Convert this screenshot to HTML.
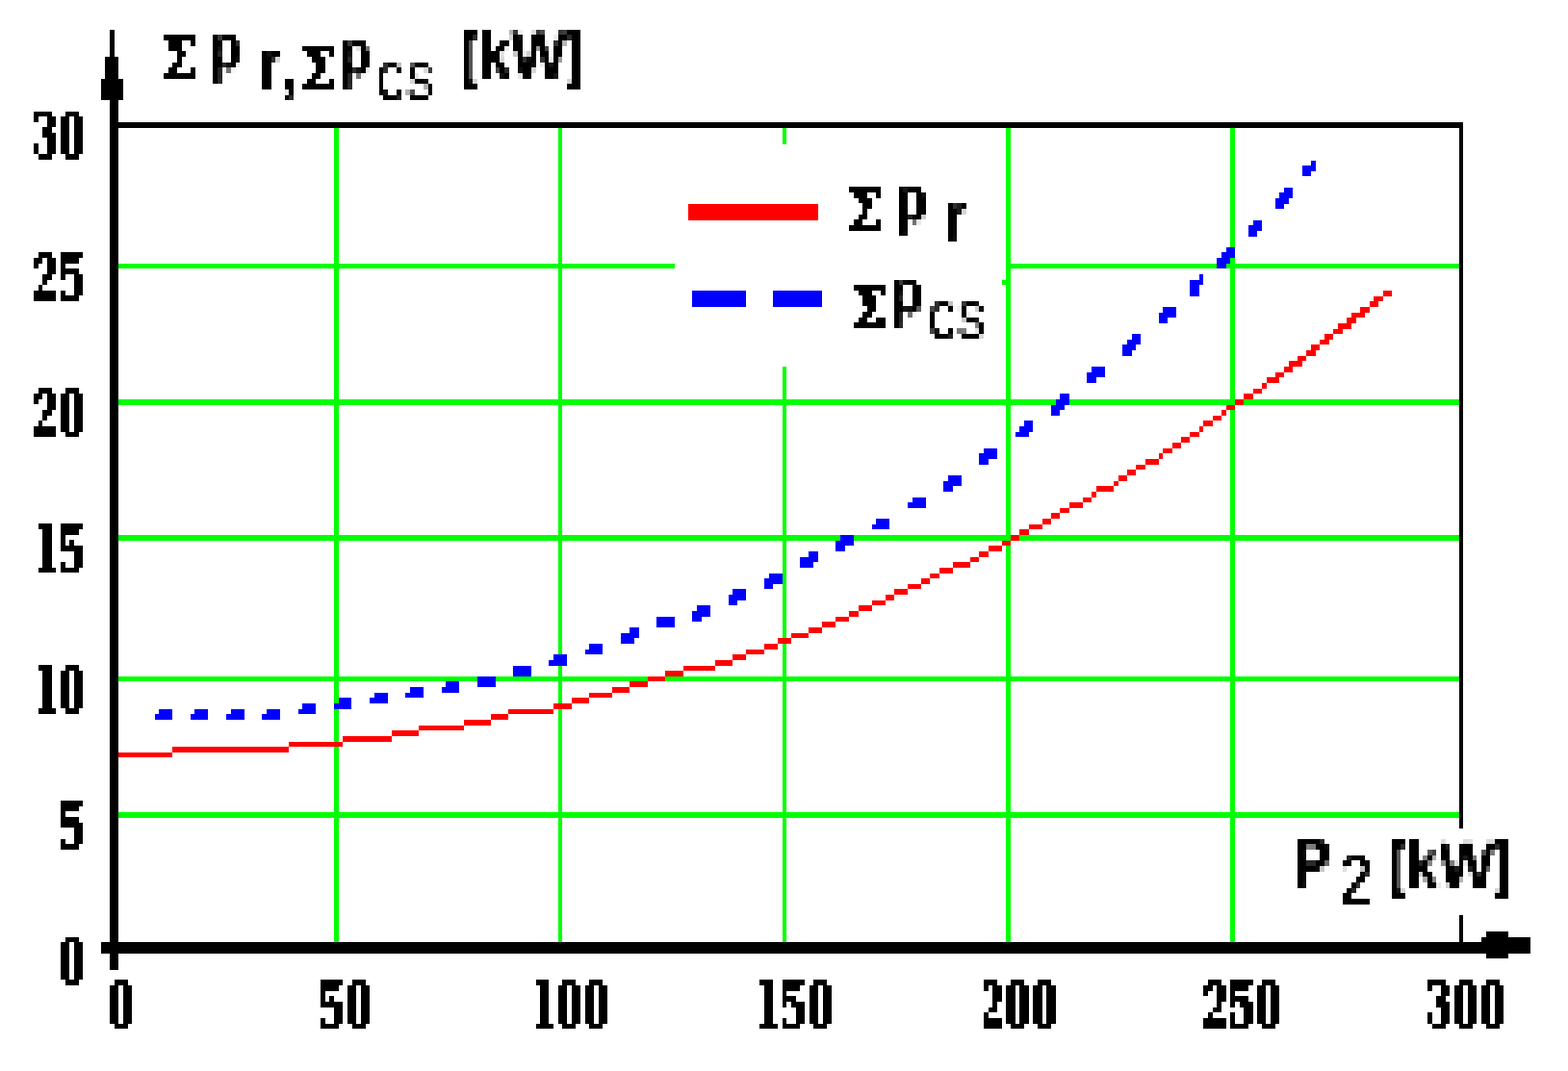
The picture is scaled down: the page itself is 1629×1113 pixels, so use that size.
<!DOCTYPE html>
<html lang="en">
<head>
<meta charset="utf-8">
<title>Losses versus output power</title>
<style>
html,body{margin:0;padding:0;background:#fff;}
body{width:1629px;height:1113px;overflow:hidden;}
svg{display:block;}
.tk{font-family:"Liberation Serif","DejaVu Serif",serif;font-weight:bold;}
.sg{font-family:"DejaVu Serif","Liberation Serif",serif;font-weight:bold;}
.sb{font-family:"Liberation Sans","DejaVu Sans",sans-serif;font-weight:bold;}
.sr{font-family:"Liberation Sans","DejaVu Sans",sans-serif;font-weight:normal;}
</style>
</head>
<body>
<svg width="1629" height="1113" viewBox="0 0 1629 1113" shape-rendering="crispEdges">
<defs>
<filter id="px" filterUnits="userSpaceOnUse" primitiveUnits="userSpaceOnUse" x="-35" y="-43" width="1788" height="1400" color-interpolation-filters="sRGB">
<feFlood x="-35" y="-43" width="1" height="1400" flood-color="rgb(148,0,0)" result="a0"/>
<feFlood x="-34" y="-43" width="1" height="1400" flood-color="rgb(138,0,0)" result="a1"/>
<feFlood x="-33" y="-43" width="1" height="1400" flood-color="rgb(128,0,0)" result="a2"/>
<feFlood x="-32" y="-43" width="1" height="1400" flood-color="rgb(118,0,0)" result="a3"/>
<feFlood x="-31" y="-43" width="1" height="1400" flood-color="rgb(108,0,0)" result="a4"/>
<feFlood x="-30" y="-43" width="1" height="1400" flood-color="rgb(148,0,0)" result="a5"/>
<feFlood x="-29" y="-43" width="1" height="1400" flood-color="rgb(138,0,0)" result="a6"/>
<feFlood x="-28" y="-43" width="1" height="1400" flood-color="rgb(128,0,0)" result="a7"/>
<feFlood x="-27" y="-43" width="1" height="1400" flood-color="rgb(118,0,0)" result="a8"/>
<feFlood x="-26" y="-43" width="1" height="1400" flood-color="rgb(148,0,0)" result="a9"/>
<feFlood x="-25" y="-43" width="1" height="1400" flood-color="rgb(138,0,0)" result="a10"/>
<feFlood x="-24" y="-43" width="1" height="1400" flood-color="rgb(128,0,0)" result="a11"/>
<feFlood x="-23" y="-43" width="1" height="1400" flood-color="rgb(118,0,0)" result="a12"/>
<feFlood x="-22" y="-43" width="1" height="1400" flood-color="rgb(108,0,0)" result="a13"/>
<feMerge x="-35" y="-43" width="14" height="1400"><feMergeNode in="a0"/><feMergeNode in="a1"/><feMergeNode in="a2"/><feMergeNode in="a3"/><feMergeNode in="a4"/><feMergeNode in="a5"/><feMergeNode in="a6"/><feMergeNode in="a7"/><feMergeNode in="a8"/><feMergeNode in="a9"/><feMergeNode in="a10"/><feMergeNode in="a11"/><feMergeNode in="a12"/><feMergeNode in="a13"/></feMerge>
<feTile x="-35" y="-43" width="140" height="1400" result="a"/>
<feFlood x="105" y="-43" width="1" height="1400" flood-color="rgb(148,0,0)" result="b0"/>
<feFlood x="106" y="-43" width="1" height="1400" flood-color="rgb(138,0,0)" result="b1"/>
<feFlood x="107" y="-43" width="1" height="1400" flood-color="rgb(128,0,0)" result="b2"/>
<feFlood x="108" y="-43" width="1" height="1400" flood-color="rgb(118,0,0)" result="b3"/>
<feFlood x="109" y="-43" width="1" height="1400" flood-color="rgb(108,0,0)" result="b4"/>
<feFlood x="110" y="-43" width="1" height="1400" flood-color="rgb(148,0,0)" result="b5"/>
<feFlood x="111" y="-43" width="1" height="1400" flood-color="rgb(138,0,0)" result="b6"/>
<feFlood x="112" y="-43" width="1" height="1400" flood-color="rgb(128,0,0)" result="b7"/>
<feFlood x="113" y="-43" width="1" height="1400" flood-color="rgb(118,0,0)" result="b8"/>
<feMerge x="-35" y="-43" width="149" height="1400"><feMergeNode in="a"/><feMergeNode in="b0"/><feMergeNode in="b1"/><feMergeNode in="b2"/><feMergeNode in="b3"/><feMergeNode in="b4"/><feMergeNode in="b5"/><feMergeNode in="b6"/><feMergeNode in="b7"/><feMergeNode in="b8"/></feMerge>
<feTile result="mx"/>
<feFlood x="-35" y="-43" width="1788" height="1" flood-color="rgb(0,158,0)" result="c0"/>
<feFlood x="-35" y="-42" width="1788" height="1" flood-color="rgb(0,148,0)" result="c1"/>
<feFlood x="-35" y="-41" width="1788" height="1" flood-color="rgb(0,138,0)" result="c2"/>
<feFlood x="-35" y="-40" width="1788" height="1" flood-color="rgb(0,128,0)" result="c3"/>
<feFlood x="-35" y="-39" width="1788" height="1" flood-color="rgb(0,118,0)" result="c4"/>
<feFlood x="-35" y="-38" width="1788" height="1" flood-color="rgb(0,108,0)" result="c5"/>
<feFlood x="-35" y="-37" width="1788" height="1" flood-color="rgb(0,148,0)" result="c6"/>
<feFlood x="-35" y="-36" width="1788" height="1" flood-color="rgb(0,138,0)" result="c7"/>
<feFlood x="-35" y="-35" width="1788" height="1" flood-color="rgb(0,128,0)" result="c8"/>
<feFlood x="-35" y="-34" width="1788" height="1" flood-color="rgb(0,118,0)" result="c9"/>
<feFlood x="-35" y="-33" width="1788" height="1" flood-color="rgb(0,108,0)" result="c10"/>
<feFlood x="-35" y="-32" width="1788" height="1" flood-color="rgb(0,158,0)" result="c11"/>
<feFlood x="-35" y="-31" width="1788" height="1" flood-color="rgb(0,148,0)" result="c12"/>
<feFlood x="-35" y="-30" width="1788" height="1" flood-color="rgb(0,138,0)" result="c13"/>
<feFlood x="-35" y="-29" width="1788" height="1" flood-color="rgb(0,128,0)" result="c14"/>
<feFlood x="-35" y="-28" width="1788" height="1" flood-color="rgb(0,118,0)" result="c15"/>
<feFlood x="-35" y="-27" width="1788" height="1" flood-color="rgb(0,108,0)" result="c16"/>
<feMerge x="-35" y="-43" width="1788" height="17"><feMergeNode in="c0"/><feMergeNode in="c1"/><feMergeNode in="c2"/><feMergeNode in="c3"/><feMergeNode in="c4"/><feMergeNode in="c5"/><feMergeNode in="c6"/><feMergeNode in="c7"/><feMergeNode in="c8"/><feMergeNode in="c9"/><feMergeNode in="c10"/><feMergeNode in="c11"/><feMergeNode in="c12"/><feMergeNode in="c13"/><feMergeNode in="c14"/><feMergeNode in="c15"/><feMergeNode in="c16"/></feMerge>
<feTile x="-35" y="-43" width="1788" height="170" result="c"/>
<feFlood x="-35" y="127" width="1788" height="1" flood-color="rgb(0,148,0)" result="d0"/>
<feFlood x="-35" y="128" width="1788" height="1" flood-color="rgb(0,138,0)" result="d1"/>
<feFlood x="-35" y="129" width="1788" height="1" flood-color="rgb(0,128,0)" result="d2"/>
<feFlood x="-35" y="130" width="1788" height="1" flood-color="rgb(0,118,0)" result="d3"/>
<feFlood x="-35" y="131" width="1788" height="1" flood-color="rgb(0,108,0)" result="d4"/>
<feMerge x="-35" y="-43" width="1788" height="175"><feMergeNode in="c"/><feMergeNode in="d0"/><feMergeNode in="d1"/><feMergeNode in="d2"/><feMergeNode in="d3"/><feMergeNode in="d4"/></feMerge>
<feTile result="my"/>
<feComposite in="mx" in2="my" operator="arithmetic" k1="0" k2="1" k3="1" k4="0" result="map"/>
<feDisplacementMap in="SourceGraphic" in2="map" scale="25.5" xChannelSelector="R" yChannelSelector="G"/>
</filter>
<filter id="bw" filterUnits="userSpaceOnUse" primitiveUnits="userSpaceOnUse" x="0" y="0" width="1629" height="1113" color-interpolation-filters="sRGB"><feGaussianBlur stdDeviation="1.3 1.6"/><feComponentTransfer><feFuncA type="discrete" tableValues="0 0 1 1 1"/></feComponentTransfer></filter>
<filter id="aa" filterUnits="userSpaceOnUse" primitiveUnits="userSpaceOnUse" x="0" y="0" width="1629" height="1113" color-interpolation-filters="sRGB"><feGaussianBlur stdDeviation="1.3 1.6"/><feComponentTransfer><feFuncA type="table" tableValues="0 0 0.2 0.8 1 1"/></feComponentTransfer></filter>
</defs>
<rect width="1629" height="1113" fill="#fff"/>
<path fill="#0f0" d="M347 133H352V979H347ZM580 133H584V979H580ZM813 133H817V979H813ZM1045 133H1050V979H1045ZM1278 133H1283V979H1278ZM123 274H1516V279H123ZM123 415H1516V421H123ZM123 556H1516V562H123ZM123 703H1516V708H123ZM123 844H1516V850H123Z"/>
<path fill="#fff" d="M701 150H1045V381H701ZM1460 861H1604V951H1460Z"/>
<path fill="#0f0" d="M1041 291H1045V296H1041Z"/>
<path fill="#f00" d="M123 782H179V787H123ZM179 776H300V782H179ZM300 771H356V776H300ZM356 765H407V771H356ZM407 759H435V765H407ZM435 754H482V759H435ZM482 748H510V754H482ZM510 742H528V748H510ZM528 737H575V742H528ZM575 731H594V737H575ZM594 725H612V731H594ZM612 720H636V725H612ZM636 714H654V720H636ZM654 708H673V714H654ZM673 703H691V708H673ZM691 697H710V703H691ZM710 692H743V697H710ZM743 686H761V692H743ZM761 680H775V686H761ZM775 675H794V680H775ZM794 669H808V675H794ZM808 663H822V669H808ZM822 658H840V663H822ZM840 652H854V658H840ZM854 646H868V652H854ZM868 641H882V646H868ZM882 635H892V641H882ZM892 629H906V635H892ZM906 624H920V629H906ZM920 618H929V624H920ZM929 612H943V618H929ZM943 607H957V612H943ZM957 601H966V607H957ZM966 596H976V601H966ZM976 590H990V596H976ZM990 584H1008V590H990ZM1008 579H1017V584H1008ZM1017 573H1027V579H1017ZM1027 567H1041V573H1027ZM1041 562H1050V567H1041ZM1050 556H1059V562H1050ZM1059 550H1069V556H1059ZM1069 545H1083V550H1069ZM1083 539H1092V545H1083ZM1092 533H1101V539H1092ZM1101 528H1111V533H1101ZM1111 522H1125V528H1111ZM1125 517H1134V522H1125ZM1134 511H1139V517H1134ZM1139 505H1157V511H1139ZM1157 500H1162V505H1157ZM1162 494H1171V500H1162ZM1171 488H1180V494H1171ZM1180 483H1190V488H1180ZM1190 477H1204V483H1190ZM1204 471H1208V477H1204ZM1208 466H1218V471H1208ZM1218 460H1227V466H1218ZM1227 454H1236V460H1227ZM1236 449H1246V454H1236ZM1246 443H1250V449H1246ZM1250 437H1260V443H1250ZM1260 432H1269V437H1260ZM1269 426H1274V432H1269ZM1274 421H1283V426H1274ZM1283 415H1292V421H1283ZM1292 409H1302V415H1292ZM1302 404H1311V409H1302ZM1311 398H1316V404H1311ZM1316 392H1329V398H1316ZM1325 387H1334V392H1325ZM1334 381H1343V387H1334ZM1339 375H1353V381H1339ZM1348 370H1357V375H1348ZM1357 364H1367V370H1357ZM1362 358H1371V364H1362ZM1371 353H1381V358H1371ZM1376 347H1385V353H1376ZM1385 342H1395V347H1385ZM1390 336H1404V342H1390ZM1399 330H1409V336H1399ZM1404 325H1418V330H1404ZM1413 319H1423V325H1413ZM1423 313H1432V319H1423ZM1427 308H1437V313H1427ZM1437 302H1446V308H1437ZM715 212H850V229H715Z"/>
<path fill="#00f" d="M165 737H179V742H165ZM161 742H179V748H161ZM202 737H216V742H202ZM198 742H216V748H198ZM240 737H254V742H240ZM235 742H254V748H235ZM277 737H291V742H277ZM272 742H291V748H272ZM314 731H328V737H314ZM310 737H328V742H310ZM352 725H365V731H352ZM347 731H365V737H347ZM389 720H403V725H389ZM384 725H403V731H384ZM426 714H440V720H426ZM421 720H440V725H421ZM463 708H477V714H463ZM459 714H477V720H459ZM496 703H515V708H496ZM496 708H515V714H496ZM533 692H552V697H533ZM533 697H552V703H533ZM575 680H589V686H575ZM570 686H589V692H570ZM612 669H626V675H612ZM608 675H626V680H608ZM654 652H664V658H654ZM645 658H664V663H645ZM645 663H659V669H645ZM682 641H701V646H682ZM682 646H701V652H682ZM724 629H738V635H724ZM719 635H738V641H719ZM719 641H729V646H719ZM761 612H775V618H761ZM757 618H775V624H757ZM757 624H766V629H757ZM799 596H813V601H799ZM794 601H813V607H794ZM794 607H803V612H794ZM840 573H850V579H840ZM831 579H850V584H831ZM831 584H845V590H831ZM873 556H887V562H873ZM868 562H887V567H868ZM868 567H878V573H868ZM910 539H924V545H910ZM906 545H924V550H906ZM948 517H962V522H948ZM943 522H962V528H943ZM985 494H999V500H985ZM980 500H999V505H980ZM980 505H990V511H980ZM1022 466H1036V471H1022ZM1017 471H1036V477H1017ZM1017 477H1027V483H1017ZM1064 437H1073V443H1064ZM1059 443H1073V449H1059ZM1055 449H1069V454H1055ZM1101 409H1111V415H1101ZM1097 415H1111V421H1097ZM1092 421H1106V426H1092ZM1092 426H1101V432H1092ZM1134 381H1148V387H1134ZM1129 387H1148V392H1129ZM1129 392H1139V398H1129ZM1176 347H1185V353H1176ZM1171 353H1185V358H1171ZM1166 358H1180V364H1166ZM1166 364H1176V370H1166ZM1208 319H1222V325H1208ZM1204 325H1222V330H1204ZM1204 330H1213V336H1204ZM1246 285H1250V291H1246ZM1236 291H1250V296H1236ZM1236 296H1246V302H1236ZM1236 302H1246V308H1236ZM1274 257H1283V262H1274ZM1269 262H1283V268H1269ZM1264 268H1278V274H1264ZM1264 274H1274V279H1264ZM1302 229H1311V234H1302ZM1297 234H1311V240H1297ZM1297 240H1306V246H1297ZM1334 195H1343V200H1334ZM1329 200H1343V206H1329ZM1325 206H1339V212H1325ZM1325 212H1334V217H1325ZM1362 167H1367V172H1362ZM1353 172H1367V178H1353ZM1353 178H1362V183H1353ZM719 302H775V319H719ZM803 302H854V319H803Z"/>
<path fill="#000" d="M114 104H123V1008H114ZM114 31H119V59H114ZM109 59H123V82H109ZM105 82H128V104H105ZM123 127H1520V133H123ZM1516 127H1520V861H1516ZM1516 951H1520V979H1516ZM105 979H1539V991H105ZM1539 974H1544V991H1539ZM1544 968H1567V996H1544ZM1567 974H1590V991H1567Z"/>
<g fill="#000" text-rendering="geometricPrecision">
<g filter="url(#px)">
<g filter="url(#bw)">
<text class="sg" transform="matrix(0.5791 0 0 0.5912 165.42 81.84)" font-size="100">Σ</text>
</g>
<g filter="url(#aa)">
<text class="sb" transform="matrix(0.5533 0 0 0.6797 217.51 73.38)" font-size="100">p</text>
<text class="sb" transform="matrix(0.6009 0 0 0.7352 268.43 93.13)" font-size="100">r</text>
<text class="sb" transform="matrix(0.6653 0 0 0.7403 290.97 92.94)" font-size="100">,</text>
</g>
<g filter="url(#bw)">
<text class="sg" transform="matrix(0.5322 0 0 0.6062 311.39 93.68)" font-size="100" stroke="#000" stroke-width="1.5" stroke-linejoin="miter">Σ</text>
</g>
<g filter="url(#aa)">
<text class="sb" transform="matrix(0.5533 0 0 0.6797 352.57 79.03)" font-size="100">p</text>
<text class="sr" transform="matrix(0.6058 0 0 0.7217 390.85 103.70)" font-size="100">cs</text>
<text class="sb" transform="matrix(0.4581 0 0 0.6385 480.30 78.60)" font-size="100" stroke="#000" stroke-width="4.0" stroke-linejoin="miter">[</text>
<text class="sb" transform="matrix(0.6155 0 0 0.6912 496.53 81.49)" font-size="100" stroke="#000" stroke-width="1.0" stroke-linejoin="miter">kW</text>
<text class="sb" transform="matrix(0.4581 0 0 0.6385 589.36 78.60)" font-size="100" stroke="#000" stroke-width="4.0" stroke-linejoin="miter">]</text>
</g>
<g filter="url(#bw)">
<text class="tk" transform="matrix(0.56 0 0 0.73 0 0)" stroke="#000"><tspan x="59.65" y="223.19" font-size="100" stroke-width="1">3</tspan><tspan x="107.88" y="226.05" font-size="100" stroke-width="2">0</tspan></text>
<text class="tk" transform="matrix(0.56 0 0 0.73 0 0)" stroke="#000"><tspan x="61.77" y="424.83" font-size="92" stroke-width="3">2</tspan><tspan x="106.75" y="427.90" font-size="104" stroke-width="2">5</tspan></text>
<text class="tk" transform="matrix(0.56 0 0 0.73 0 0)" stroke="#000"><tspan x="61.77" y="618.16" font-size="92" stroke-width="3">2</tspan><tspan x="107.88" y="620.43" font-size="100" stroke-width="2">0</tspan></text>
<text class="tk" transform="matrix(0.56 0 0 0.73 0 0)" stroke="#000"><tspan x="58.66" y="813.90" font-size="108" stroke-width="0">1</tspan><tspan x="106.75" y="814.54" font-size="104" stroke-width="2">5</tspan></text>
<text class="tk" transform="matrix(0.56 0 0 0.73 0 0)" stroke="#000"><tspan x="58.66" y="1014.96" font-size="108" stroke-width="0">1</tspan><tspan x="107.88" y="1014.81" font-size="100" stroke-width="2">0</tspan></text>
<text class="tk" transform="matrix(0.56 0 0 0.73 0 0)" stroke="#000"><tspan x="106.75" y="1207.55" font-size="104" stroke-width="2">5</tspan></text>
<text class="tk" transform="matrix(0.56 0 0 0.73 0 0)" stroke="#000"><tspan x="107.88" y="1401.45" font-size="100" stroke-width="2">0</tspan></text>
<text class="sg" transform="matrix(0.5791 0 0 0.5912 877.94 239.90)" font-size="100">Σ</text>
</g>
<g filter="url(#aa)">
<text class="sb" transform="matrix(0.5533 0 0 0.6797 930.04 231.44)" font-size="100">p</text>
<text class="sb" transform="matrix(0.6009 0 0 0.7352 980.95 251.19)" font-size="100">r</text>
</g>
<g filter="url(#bw)">
<text class="sg" transform="matrix(0.5195 0 0 0.5942 884.63 341.62)" font-size="100" stroke="#000" stroke-width="3" stroke-linejoin="miter">Σ</text>
</g>
<g filter="url(#aa)">
<text class="sb" transform="matrix(0.5533 0 0 0.6797 925.38 327.41)" font-size="100">p</text>
<text class="sr" transform="matrix(0.6058 0 0 0.7217 963.66 352.08)" font-size="100">cs</text>
<text class="sb" transform="matrix(0.5770 0 0 0.7390 1344.21 922.94)" font-size="100">P</text>
<text class="sr" transform="matrix(0.5945 0 0 0.7131 1392.15 939.35)" font-size="100" stroke="#000" stroke-width="1.5" stroke-linejoin="miter">2</text>
<text class="sb" transform="matrix(0.4581 0 0 0.6385 1444.30 919.71)" font-size="100" stroke="#000" stroke-width="4.0" stroke-linejoin="miter">[</text>
<text class="sb" transform="matrix(0.6155 0 0 0.6912 1460.53 922.60)" font-size="100" stroke="#000" stroke-width="1.0" stroke-linejoin="miter">kW</text>
<text class="sb" transform="matrix(0.4581 0 0 0.6385 1553.36 919.71)" font-size="100" stroke="#000" stroke-width="4.0" stroke-linejoin="miter">]</text>
</g>
<g filter="url(#bw)">
<text class="tk" transform="matrix(0.56 0 0 0.73 0 0)" stroke="#000"><tspan x="199.36" y="1463.32" font-size="100" stroke-width="2">0</tspan></text>
<text class="tk" transform="matrix(0.56 0 0 0.73 0 0)" stroke="#000"><tspan x="589.09" y="1464.11" font-size="104" stroke-width="2">5</tspan><tspan x="640.11" y="1463.32" font-size="100" stroke-width="2">0</tspan></text>
<text class="tk" transform="matrix(0.56 0 0 0.73 0 0)" stroke="#000"><tspan x="981.75" y="1463.47" font-size="108" stroke-width="0">1</tspan><tspan x="1030.97" y="1463.32" font-size="100" stroke-width="2">0</tspan><tspan x="1080.87" y="1463.32" font-size="100" stroke-width="2">0</tspan></text>
<text class="tk" transform="matrix(0.56 0 0 0.73 0 0)" stroke="#000"><tspan x="1397.55" y="1463.47" font-size="108" stroke-width="0">1</tspan><tspan x="1445.64" y="1462.74" font-size="104" stroke-width="2">5</tspan><tspan x="1496.67" y="1463.32" font-size="100" stroke-width="2">0</tspan></text>
<text class="tk" transform="matrix(0.56 0 0 0.73 0 0)" stroke="#000"><tspan x="1818.25" y="1459.67" font-size="92" stroke-width="1">2</tspan><tspan x="1862.58" y="1463.32" font-size="100" stroke-width="2">0</tspan><tspan x="1912.47" y="1463.32" font-size="100" stroke-width="2">0</tspan></text>
<text class="tk" transform="matrix(0.56 0 0 0.73 0 0)" stroke="#000"><tspan x="2231.27" y="1462.37" font-size="96" stroke-width="2">2</tspan><tspan x="2277.25" y="1462.74" font-size="104" stroke-width="2">5</tspan><tspan x="2328.28" y="1463.32" font-size="100" stroke-width="2">0</tspan></text>
<text class="tk" transform="matrix(0.56 0 0 0.73 0 0)" stroke="#000"><tspan x="2646.95" y="1460.52" font-size="96" stroke-width="1">3</tspan><tspan x="2694.18" y="1463.32" font-size="100" stroke-width="2">0</tspan><tspan x="2744.08" y="1463.32" font-size="100" stroke-width="2">0</tspan></text>
</g>
</g>
</g>
</svg>
</body>
</html>
